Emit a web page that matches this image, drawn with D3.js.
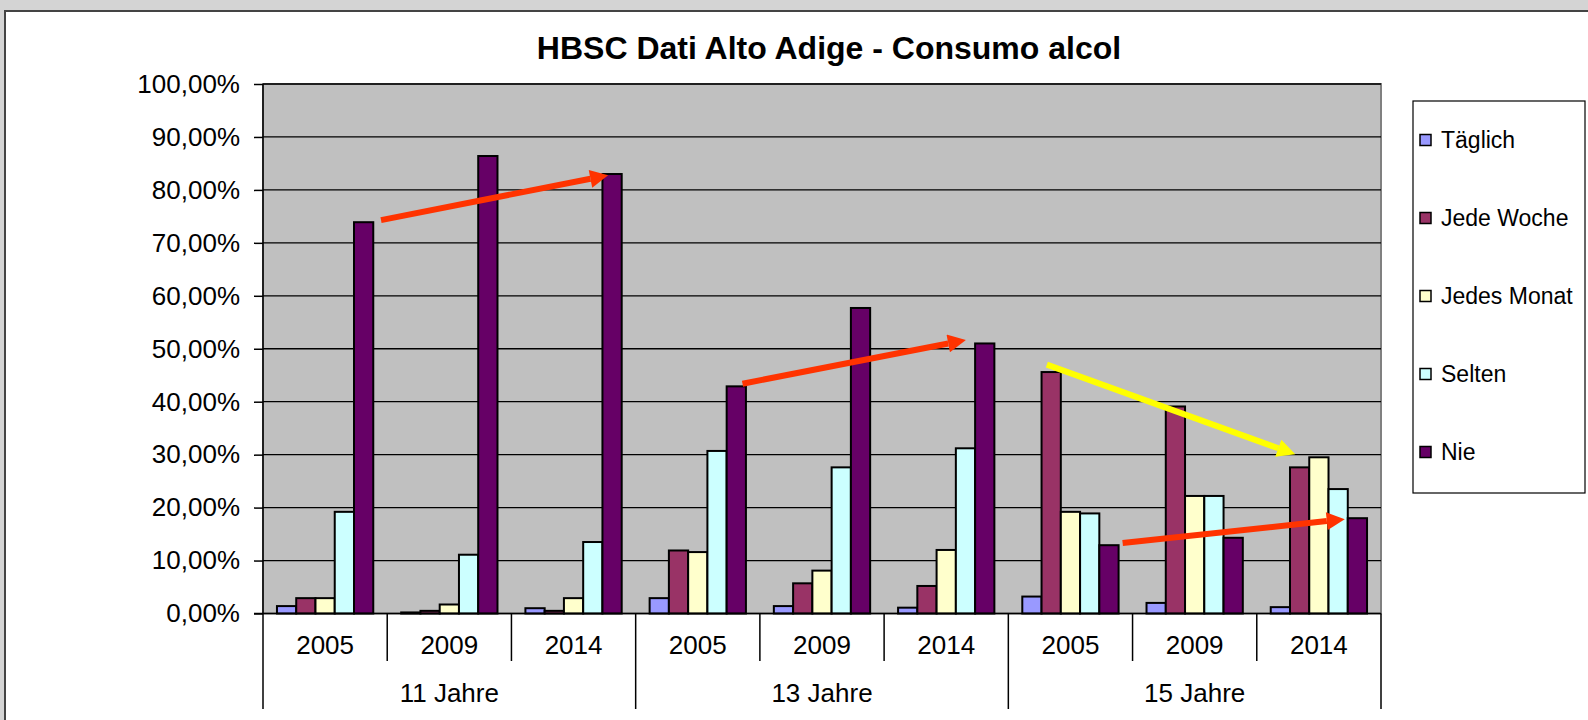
<!DOCTYPE html>
<html>
<head>
<meta charset="utf-8">
<script src="https://cdn.jsdelivr.net/npm/d3@7"></script>
<style>
  html, body { margin: 0; padding: 0; background: #d4d4d4; }
  svg { display: block; font-family: "Liberation Sans", Arial, sans-serif; }
</style>
</head>
<body>
<svg id="chart" width="1588" height="720"></svg>
<script>
// data (shares in %)
const GROUPS = ["11 Jahre", "13 Jahre", "15 Jahre"];
const YEARS = ["2005", "2009", "2014"];
const SERIES = ["Täglich", "Jede Woche", "Jedes Monat", "Selten", "Nie"];
const COLORS = ["#9999ff", "#993366", "#ffffcc", "#ccffff", "#660066"];

// one value per (group, year), in GROUPS x YEARS order
const taeglich   = [1.4, 0.2, 1.0,  2.9, 1.4, 1.1,  3.2, 2.0, 1.2];
const jedeWoche  = [2.9, 0.5, 0.5,  11.9, 5.7, 5.2,  45.6, 39.1, 27.6];
const jedesMonat = [2.9, 1.7, 2.9,  11.6, 8.1, 12.0,  19.2, 22.2, 29.5];
const selten     = [19.2, 11.1, 13.5,  30.7, 27.6, 31.2,  18.9, 22.2, 23.5];
const nie        = [73.9, 86.4, 83.0,  42.9, 57.7, 51.0,  12.9, 14.3, 18.0];
const Y_TICKS = [0, 10, 20, 30, 40, 50, 60, 70, 80, 90, 100];

// hand-drawn trend arrows: [position in category units, value in %]
const ARROWS = [
  { from: [0.95, 74.3], to: [2.81, 82.9], color: "#ff3300" },
  { from: [3.86, 43.4], to: [5.69, 51.8], color: "#ff3300" },
  { from: [6.31, 47.0], to: [8.34, 29.8], color: "#ffff00" },
  { from: [6.92, 13.3], to: [8.74, 17.9], color: "#ff3300" }
];

const values = [taeglich, jedeWoche, jedesMonat, selten, nie];
const cats = [];
GROUPS.forEach((g, gi) => YEARS.forEach((yr, yi) => cats.push({ group: g, year: yr, idx: gi * 3 + yi })));

const svg = d3.select("#chart");
const plotLeft = 263, plotRight = 1381, plotTop = 84, plotBottom = 613.5;

// white chart frame
svg.append("rect").attr("x", 0).attr("y", 0).attr("width", 1588).attr("height", 720).attr("fill", "#d4d4d4");
svg.append("rect").attr("x", 5).attr("y", 11).attr("width", 1600).attr("height", 720).attr("fill", "#fff")
  .attr("stroke", "#444").attr("stroke-width", 2);

const x0 = d3.scaleBand().domain(cats.map((d) => d.idx)).range([plotLeft, plotRight]);
const gap = x0.bandwidth() * 1.45 / 6.45;
const x1 = d3.scaleBand().domain(SERIES).range([gap / 2, x0.bandwidth() - gap / 2]);
const xc = d3.scaleLinear().domain([0, cats.length]).range([plotLeft, plotRight]);
const y = d3.scaleLinear().domain([0, 100]).range([plotBottom, plotTop]);

svg.append("text")
  .attr("x", 829).attr("y", 59).attr("text-anchor", "middle")
  .attr("font-size", 32).attr("font-weight", "bold")
  .text("HBSC Dati Alto Adige - Consumo alcol");

// plot area
svg.append("rect").attr("x", plotLeft).attr("y", plotTop)
  .attr("width", plotRight - plotLeft).attr("height", plotBottom - plotTop)
  .attr("fill", "#c0c0c0").attr("stroke", "#808080").attr("stroke-width", 2);

svg.append("g").selectAll("line").data(Y_TICKS.slice(1)).join("line")
  .attr("x1", plotLeft).attr("x2", plotRight)
  .attr("y1", (d) => y(d)).attr("y2", (d) => y(d))
  .attr("stroke", "#000").attr("stroke-width", 1.3);

// y axis
const yAxis = svg.append("g")
  .attr("transform", `translate(${plotLeft},0)`)
  .call(d3.axisLeft(y).tickValues(Y_TICKS).tickSize(9).tickPadding(14)
    .tickFormat((d) => d3.format(".2f")(d).replace(".", ",") + "%"));
yAxis.select(".domain").remove();
yAxis.selectAll("line").attr("stroke", "#000").attr("stroke-width", 1.5);
yAxis.selectAll("text").attr("font-size", 26).attr("fill", "#000")
  .attr("font-family", "'Liberation Sans', Arial, sans-serif");

// bars
const catG = svg.append("g").selectAll("g").data(cats).join("g")
  .attr("transform", (d) => `translate(${x0(d.idx)},0)`);
catG.selectAll("rect")
  .data((d) => SERIES.map((s, si) => ({ s, si, v: values[si][d.idx] })))
  .join("rect")
  .attr("x", (d) => x1(d.s))
  .attr("width", x1.bandwidth())
  .attr("y", (d) => y(d.v))
  .attr("height", (d) => plotBottom - y(d.v))
  .attr("fill", (d) => COLORS[d.si])
  .attr("stroke", "#000").attr("stroke-width", 2);

// axis lines
svg.append("line").attr("x1", plotLeft).attr("x2", plotLeft).attr("y1", plotTop).attr("y2", 709)
  .attr("stroke", "#000").attr("stroke-width", 1.5);
svg.append("line").attr("x1", plotLeft - 9).attr("x2", plotRight).attr("y1", plotBottom).attr("y2", plotBottom)
  .attr("stroke", "#000").attr("stroke-width", 1.5);

// category separators
svg.append("g").selectAll("line").data(d3.range(1, cats.length + 1)).join("line")
  .attr("x1", (i) => xc(i)).attr("x2", (i) => xc(i))
  .attr("y1", plotBottom).attr("y2", (i) => (i % 3 === 0 ? 709 : 661))
  .attr("stroke", "#000").attr("stroke-width", 1.5);

svg.append("g").selectAll("text").data(cats).join("text")
  .attr("x", (d) => x0(d.idx) + x0.bandwidth() / 2).attr("y", 645)
  .attr("text-anchor", "middle").attr("dominant-baseline", "central")
  .attr("font-size", 26).text((d) => d.year);

svg.append("g").selectAll("text").data(GROUPS).join("text")
  .attr("x", (d, i) => xc(i * 3 + 1.5)).attr("y", 693)
  .attr("text-anchor", "middle").attr("dominant-baseline", "central")
  .attr("font-size", 26).text((d) => d);

// legend
const legend = svg.append("g");
legend.append("rect").attr("x", 1413).attr("y", 101).attr("width", 172).attr("height", 392)
  .attr("fill", "#fff").attr("stroke", "#000").attr("stroke-width", 1.2);
const item = legend.selectAll("g.item").data(SERIES).join("g").attr("class", "item")
  .attr("transform", (d, i) => `translate(1420,${140 + i * 78})`);
item.append("rect").attr("x", 0).attr("y", -5.5).attr("width", 11).attr("height", 11)
  .attr("fill", (d, i) => COLORS[i]).attr("stroke", "#000").attr("stroke-width", 1.5);
item.append("text").attr("x", 21).attr("y", 0).attr("dominant-baseline", "central")
  .attr("font-size", 23).text((d) => d);

// arrows: shaft stops where the head begins, head tip lands on the target point
const HEAD_LEN = 22;
const defs = svg.append("defs");
ARROWS.forEach((a, i) => {
  defs.append("marker").attr("id", `head${i}`)
    .attr("viewBox", "0 0 10 10").attr("refX", 0).attr("refY", 5)
    .attr("markerUnits", "userSpaceOnUse").attr("markerWidth", HEAD_LEN).attr("markerHeight", 18)
    .attr("orient", "auto")
    .append("path").attr("d", "M0,0L10,5L0,10Z").attr("fill", a.color);
});
const shaftEnd = (d) => {
  const xa = xc(d.from[0]), ya = y(d.from[1]);
  const xb = xc(d.to[0]), yb = y(d.to[1]);
  const len = Math.hypot(xb - xa, yb - ya);
  return [xb - (xb - xa) / len * HEAD_LEN, yb - (yb - ya) / len * HEAD_LEN];
};
svg.append("g").selectAll("line").data(ARROWS).join("line")
  .attr("x1", (d) => xc(d.from[0])).attr("y1", (d) => y(d.from[1]))
  .attr("x2", (d) => shaftEnd(d)[0]).attr("y2", (d) => shaftEnd(d)[1])
  .attr("stroke", (d) => d.color).attr("stroke-width", 6)
  .attr("marker-end", (d, i) => `url(#head${i})`);
</script>
</body>
</html>
